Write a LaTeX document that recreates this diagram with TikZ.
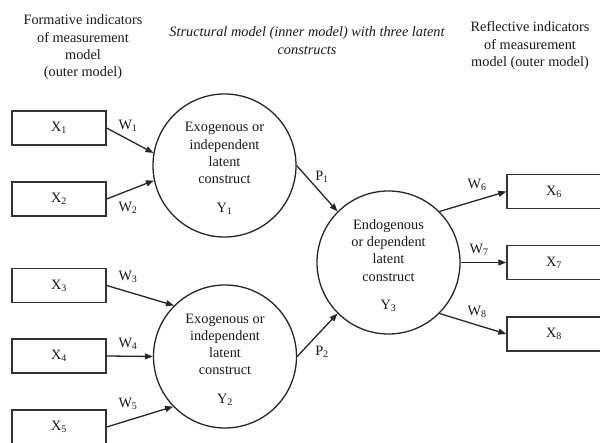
\documentclass[tikz,border=0pt]{standalone}
\usepackage{fontspec}
\setmainfont{Liberation Serif}
\usetikzlibrary{arrows.meta}
\begin{document}
\begin{tikzpicture}[x=1pt,y=-1pt,
  every node/.style={text=black!90, font=\fontsize{14.3}{17.3}\selectfont},
  ibox/.style={draw=black!80, line width=1.4pt, minimum width=94pt, minimum height=34pt, inner sep=0pt},
  lat/.style={draw=black!85, line width=1.3pt, circle, minimum size=143pt, inner sep=0pt},
  ctext/.style={align=center, inner sep=0pt},
  head/.style={align=center, inner sep=0pt},
  lbl/.style={inner sep=0pt},
  arr/.style={draw=black!85, line width=1.3pt, -{Triangle[length=8pt,width=6pt]}},
]
\useasboundingbox (0,0) rectangle (600,443);
\clip (0,0) rectangle (600,443);
\fill[white] (0,0) rectangle (600,443);

% headings
\node[head] (h1) at (83,47.5) {Formative indicators\\of measurement\\model\\(outer model)};
\node[head, font=\fontsize{14.3}{17.3}\selectfont\itshape] (h2) at (307,40.5) {Structural model (inner model) with three latent\\constructs};
\node[head] (h3) at (530,45.5) {Reflective indicators\\of measurement\\model (outer model)};

% indicator boxes
\node[ibox] (x1) at (59,128) {X\textsubscript{1}};
\node[ibox] (x2) at (59,199) {X\textsubscript{2}};
\node[ibox] (x3) at (59,285.5) {X\textsubscript{3}};
\node[ibox] (x4) at (59,356) {X\textsubscript{4}};
\node[ibox] (x5) at (59,427) {X\textsubscript{5}};
\node[ibox] (x6) at (554,191.5) {X\textsubscript{6}};
\node[ibox] (x7) at (554,262.5) {X\textsubscript{7}};
\node[ibox] (x8) at (554,334) {X\textsubscript{8}};

% latent constructs
\node[lat] (y1) at (224.5,165.5) {};
\node[lat] (y2) at (225,356.5) {};
\node[lat] (y3) at (388.5,262.5) {};
\node[ctext] (y1t) at ([yshift=-3pt]y1.center) {Exogenous or\\independent\\latent\\construct\\[11pt]Y\textsubscript{1}};
\node[ctext] (y2t) at ([yshift=-3pt]y2.center) {Exogenous or\\independent\\latent\\construct\\[11pt]Y\textsubscript{2}};
\node[ctext] (y3t) at ([yshift=-3pt]y3.center) {Endogenous\\or dependent\\latent\\construct\\[11pt]Y\textsubscript{3}};

% connectors
\draw[arr] (x1.east) -- (y1.170);
\draw[arr] (x2.east) -- (y1.192);
\draw[arr] (x3.east) -- (y2.135);
\draw[arr] (x4.east) -- (y2.180);
\draw[arr] (x5.east) -- (y2.224);
\draw[arr] (y1.east) -- (y3.135);
\draw[arr] (y2.east) -- (y3.225);
\draw[arr] (y3.45) -- (x6.west);
\draw[arr] (y3.east) -- (x7.west);
\draw[arr] (y3.-45) -- (x8.west);

% weights and paths
\node[lbl] (w1) at (128,126) {W\textsubscript{1}};
\node[lbl] (w2) at (128,208) {W\textsubscript{2}};
\node[lbl] (w3) at (128,277) {W\textsubscript{3}};
\node[lbl] (w4) at (128,344) {W\textsubscript{4}};
\node[lbl] (w5) at (128,404) {W\textsubscript{5}};
\node[lbl] (p1) at (322,177) {P\textsubscript{1}};
\node[lbl] (p2) at (322,352) {P\textsubscript{2}};
\node[lbl] (w6) at (477,185) {W\textsubscript{6}};
\node[lbl] (w7) at (479,250) {W\textsubscript{7}};
\node[lbl] (w8) at (477,312) {W\textsubscript{8}};
\end{tikzpicture}
\end{document}
